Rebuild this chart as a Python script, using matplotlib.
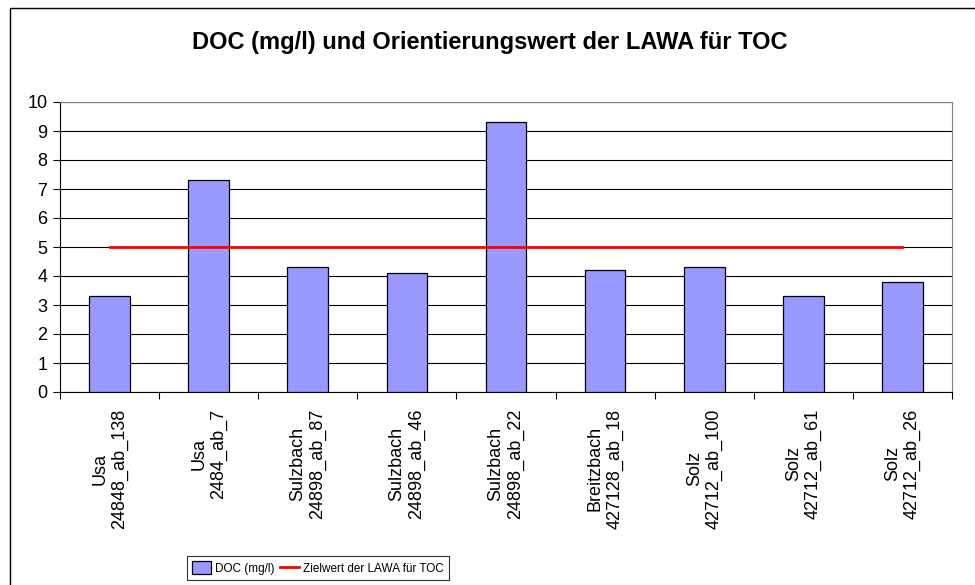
import numpy as np
import matplotlib.pyplot as plt
from matplotlib.patches import Rectangle

# Messstellen und DOC-Werte
stellen = ["Usa\n24848_ab_138", "Usa\n2484_ab_7", "Sulzbach\n24898_ab_87",
           "Sulzbach\n24898_ab_46", "Sulzbach\n24898_ab_22", "Breitzbach\n427128_ab_18",
           "Solz\n42712_ab_100", "Solz\n42712_ab_61", "Solz\n42712_ab_26"]
doc = [3.3, 7.3, 4.3, 4.1, 9.3, 4.2, 4.3, 3.3, 3.8]
zielwert = [5, 5, 5, 5, 5, 5, 5, 5, 5]

plt.rcParams['font.family'] = ['Liberation Sans', 'DejaVu Sans']

W, H = 975, 585
fig = plt.figure(figsize=(9.75, 5.85), dpi=100)
ax = fig.add_axes([60 / W, 1 - 392 / H, (952 - 60) / W, (392 - 102) / H])

# outer chart frame
fig.patches.append(Rectangle((10 / W, -0.01), 1.02 - 10 / W, 1 - 8 / H + 0.01,
                             transform=fig.transFigure, fill=False,
                             edgecolor='black', linewidth=1.0))

x = np.arange(len(stellen))
bars = ax.bar(x, doc, width=0.41, color='#9999ff', edgecolor='black',
              linewidth=0.9, label='DOC (mg/l)', zorder=3)
line, = ax.plot(x, zielwert, color='red', linewidth=2, label='Zielwert der LAWA für TOC',
                zorder=4)

ax.set_xlim(-0.5, len(stellen) - 0.5)
ax.set_ylim(0, 10)
ax.set_yticks(range(0, 11))
ax.yaxis.grid(True, color='black', linewidth=0.8)
ax.set_axisbelow(True)

ax.set_xticks(np.arange(-0.5, len(stellen), 1))
ax.set_xticklabels([])
ax.set_xticks(x, minor=True)
ax.set_xticklabels(stellen, minor=True, rotation=90, fontsize=13,
                   ha='center', va='top', multialignment='center')
ax.tick_params(axis='x', which='minor', length=0, pad=12)
ax.tick_params(axis='x', which='major', length=5, direction='out', color='black')
ax.tick_params(axis='y', length=5, labelsize=13, color='black', pad=4)

for side in ['top', 'right']:
    ax.spines[side].set_color('#808080')
for side in ['left', 'bottom']:
    ax.spines[side].set_color('black')

fig.text(490 / W, 1 - 42 / H,
         'DOC (mg/l) und Orientierungswert der LAWA für TOC',
         ha='center', va='center', fontsize=17, fontweight='bold')

leg = fig.legend(handles=[bars, line], loc='center',
                 bbox_to_anchor=(318 / W, 1 - 568 / H), ncol=2, frameon=True,
                 fancybox=False, edgecolor='black',
                 prop={'family': ['Liberation Sans Narrow', 'Liberation Sans'], 'size': 8.5},
                 handlelength=1.6, handleheight=1.3, handletextpad=0.3,
                 columnspacing=0.5, borderpad=0.45)
leg.get_frame().set_linewidth(0.8)

fig.savefig('out.png', dpi=100)
